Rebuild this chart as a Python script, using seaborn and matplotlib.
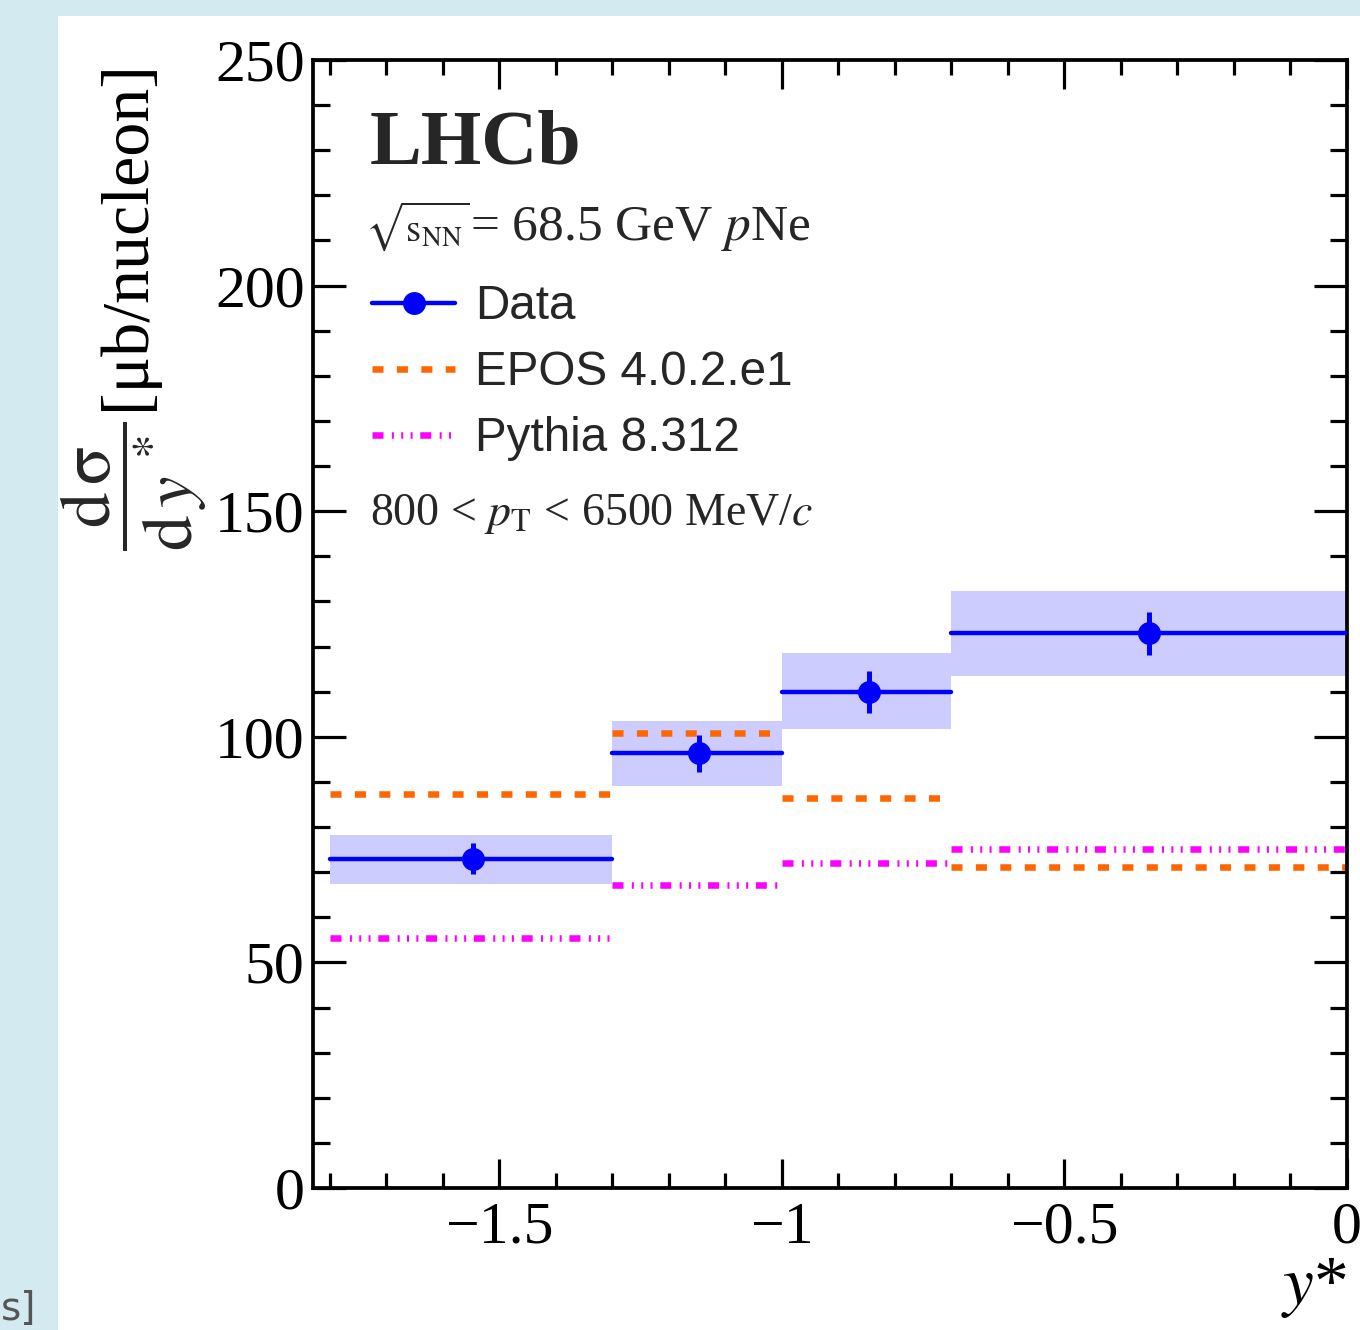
import numpy as np
import pandas as pd
import matplotlib
matplotlib.use("Agg")
import matplotlib.pyplot as plt
import seaborn as sns
from matplotlib.lines import Line2D
from matplotlib.patches import Rectangle
from matplotlib.ticker import FixedLocator, MultipleLocator

# bins in y*
bin_lo = [-1.8, -1.3, -1.0, -0.7]
bin_hi = [-1.3, -1.0, -0.7, 0.0]

# data points
data_x = [-1.547, -1.146, -0.846, -0.350]
data_y = [73.0, 96.3, 110.0, 122.9]
data_err = [3.5, 4.1, 4.65, 4.8]
band_lo = [67.3, 89.0, 101.7, 113.5]
band_hi = [78.2, 103.5, 118.5, 132.4]

# models
epos = [87.3, 100.9, 86.5, 71.2]
pythia = [55.3, 67.2, 72.1, 75.2]

xtick_vals = [-1.5, -1.0, -0.5, 0.0]
xtick_labels = ["\u22121.5", "\u22121", "\u22120.5", "0"]
ytick_vals = [0, 50, 100, 150, 200, 250]
ytick_labels = ["0", "50", "100", "150", "200", "250"]

c_data = "#0000ff"
c_band = "#ccccff"
c_epos = "#ff6600"
c_pyth = "#ff00ff"
epos_ls = (0, (1.69, 2.05))
pyth_ls = (0, (1.69, 1.28, 0.31, 1.12, 0.31, 1.12, 0.31, 1.18))


def segments(vals):
    rows = []
    for i, v in enumerate(vals):
        rows.append({"x": bin_lo[i], "y": v, "bin": i})
        rows.append({"x": bin_hi[i], "y": v, "bin": i})
    return pd.DataFrame(rows)


sns.set_theme(style="ticks")
plt.rcParams["font.family"] = ["Liberation Serif", "DejaVu Serif"]
plt.rcParams["mathtext.fontset"] = "stix"

fig = plt.figure(figsize=(13.6, 13.3), dpi=100, facecolor="#d2eaf0")
fig.patches.append(Rectangle((58 / 1360, 0), 1, 1 - 16 / 1330,
                             transform=fig.transFigure, facecolor="white",
                             edgecolor="none", zorder=-10))
fig.text(1 / 1360, 2 / 1330, "s]", fontsize=28, color="#555555",
         family=["DejaVu Sans"], va="bottom", ha="left")

ax = fig.add_axes([313 / 1360, 1 - 1188 / 1330, 1034 / 1360, 1128 / 1330])

# syst bands
ax.bar(bin_lo, np.array(band_hi) - np.array(band_lo), bottom=band_lo,
       width=np.array(bin_hi) - np.array(bin_lo), align="edge",
       color=c_band, linewidth=0, zorder=1)

sns.lineplot(data=segments(epos), x="x", y="y", units="bin", estimator=None,
             color=c_epos, lw=4.7, linestyle=epos_ls, ax=ax, zorder=2)
sns.lineplot(data=segments(pythia), x="x", y="y", units="bin", estimator=None,
             color=c_pyth, lw=4.7, linestyle=pyth_ls, ax=ax, zorder=2)
sns.lineplot(data=segments(data_y), x="x", y="y", units="bin", estimator=None,
             color=c_data, lw=3.2, ax=ax, zorder=3)
ax.errorbar(data_x, data_y, yerr=data_err, fmt="o", color=c_data,
            ms=15.5, elinewidth=3.6, capsize=0, zorder=4)

ax.set_xlim(-1.83, 0.0)
ax.set_ylim(0, 250)
ax.xaxis.set_major_locator(FixedLocator(xtick_vals))
ax.set_xticklabels(xtick_labels)
ax.yaxis.set_major_locator(FixedLocator(ytick_vals))
ax.set_yticklabels(ytick_labels)
ax.xaxis.set_minor_locator(MultipleLocator(0.1))
ax.yaxis.set_minor_locator(MultipleLocator(10))
ax.tick_params(which="both", direction="in", top=True, right=True,
               width=2.3, color="black", labelsize=43, labelcolor="black")
ax.tick_params(axis="x", which="major", length=21, pad=10)
ax.tick_params(axis="x", which="minor", length=11)
ax.tick_params(axis="y", which="major", length=24, pad=6)
ax.tick_params(axis="y", which="minor", length=12)
for s in ax.spines.values():
    s.set_linewidth(2.7)
    s.set_color("black")

ax.set_xlabel("$y$*", fontsize=50, loc="right", labelpad=0, color="black")
ax.set_ylabel("[μb/nucleon]", fontsize=49, loc="top", color="black")
ax.yaxis.set_label_coords(-0.150, 1.0)
ax.text(-0.173, 0.680, r"$\dfrac{\mathrm{d\,σ}}{\mathrm{d}\,y^{\,*}}$",
        transform=ax.transAxes, rotation=90, fontsize=51,
        ha="center", va="top")

ax.text(0.055, 0.908, "LHCb", transform=ax.transAxes, fontsize=56,
        fontweight="bold", va="baseline", ha="left")
ax.text(0.050, 0.840, r"$\sqrt{\mathrm{s}_{\mathrm{NN}}}$",
        transform=ax.transAxes, fontsize=28, va="baseline", ha="left")
ax.text(0.152, 0.840, r"= 68.5 GeV $p$Ne",
        transform=ax.transAxes, fontsize=37, va="baseline", ha="left")
ax.text(0.055, 0.588, r"800 < $p_{\mathrm{T}}$ < 6500 MeV/$c$",
        transform=ax.transAxes, fontsize=33, va="baseline", ha="left")

handles = [
    Line2D([], [], color=c_data, lw=3.2, marker="o", ms=15.5),
    Line2D([], [], color=c_epos, lw=4.7, linestyle=epos_ls),
    Line2D([], [], color=c_pyth, lw=4.7, linestyle=pyth_ls),
]
ax.legend(handles, ["Data", "EPOS 4.0.2.e1", "Pythia 8.312"],
          loc="upper left", bbox_to_anchor=(0.057, 0.801), frameon=False,
          borderpad=0, borderaxespad=0, handlelength=1.75, handletextpad=0.42,
          labelspacing=0.44, prop={"family": "Liberation Sans", "size": 34.3})

fig.savefig("out.png", dpi=100)
